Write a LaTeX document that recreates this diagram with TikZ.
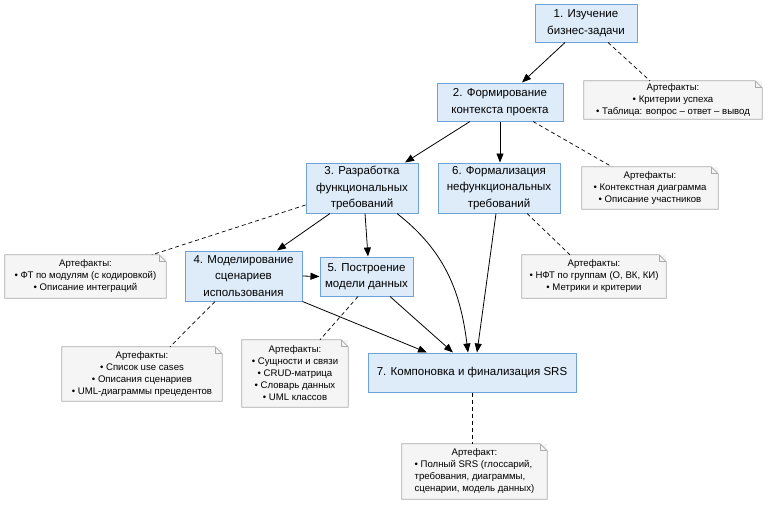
\documentclass[tikz,border=0pt]{standalone}
\usepackage{fontspec}
\setmainfont{Liberation Sans}
\usetikzlibrary{arrows.meta}
\definecolor{boxfill}{RGB}{222,236,250}
\definecolor{boxdraw}{RGB}{112,162,218}
\definecolor{notefill}{RGB}{245,245,245}
\definecolor{notedraw}{RGB}{170,170,170}
\begin{document}
\begin{tikzpicture}[x=1pt,y=-1pt,
  box/.style={draw=boxdraw, fill=boxfill, line width=1pt, align=center,
    font=\fontsize{11.5}{16.5}\selectfont, inner sep=0pt},
  note/.style={fill=notefill, align=center, font=\fontsize{9.6}{12}\selectfont, inner sep=0pt},
  notefold/.style={draw=notedraw, line width=0.8pt, line join=miter},
  arr/.style={-{Triangle[length=9pt,width=7pt]}, line width=0.8pt},
  dsh/.style={dash pattern=on 4pt off 3pt, line width=0.7pt}]
\useasboundingbox[fill=white] (0,0) rectangle (770,504);

% process boxes
\node[box, minimum width=102pt, minimum height=38pt] (b1) at (586,23) {1. Изучение\\бизнес-задачи};
\node[box, minimum width=126pt, minimum height=38pt] (b2) at (500,102) {2. Формирование\\контекста проекта};
\node[box, minimum width=112pt, minimum height=50pt] (b3) at (362,188) {3. Разработка\\функциональных\\требований};
\node[box, minimum width=122pt, minimum height=50pt] (b6) at (499,188) {6. Формализация\\нефункциональных\\требований};
\node[box, minimum width=117pt, minimum height=50pt] (b4) at (243.5,276) {4. Моделирование\\сценариев\\использования};
\node[box, minimum width=93pt, minimum height=39pt] (b5) at (366.5,276.5) {5. Построение\\модели данных};
\node[box, minimum width=208pt, minimum height=39pt] (b7) at (472,372.5) {7. Компоновка и финализация SRS};

% notes
\node[note, minimum width=178pt, minimum height=38pt] (n1) at (673,100) {Артефакты:\\• Критерии успеха\\• Таблица: вопрос – ответ – вывод};
\node[note, minimum width=136pt, minimum height=42pt] (n2) at (650,188) {Артефакты:\\• Контекстная диаграмма\\• Описание участников};
\node[note, minimum width=161pt, minimum height=43pt] (n3) at (85.5,276.5) {Артефакты:\\• ФТ по модулям (с кодировкой)\\• Описание интеграций};
\node[note, minimum width=144pt, minimum height=43pt] (n6) at (594,276.5) {Артефакты:\\• НФТ по группам (О, ВК, КИ)\\• Метрики и критерии};
\node[note, minimum width=160pt, minimum height=54pt] (n4) at (142,374) {Артефакты:\\• Список use cases\\• Описания сценариев\\• UML-диаграммы прецедентов};
\node[note, minimum width=106pt, minimum height=67pt] (n5) at (295,373.5) {Артефакты:\\• Сущности и связи\\• CRUD-матрица\\• Словарь данных\\• UML классов};
\node[note, minimum width=145pt, minimum height=55pt] (n7) at (474.5,471.5) {\begin{tabular}{@{}l@{}}\multicolumn{1}{@{}c@{}}{Артефакт:}\\• Полный SRS (глоссарий,\\требования, диаграммы,\\сценарии, модель данных)\end{tabular}};

\foreach \n in {n1,n2,n3,n6,n4,n5,n7}{
  \draw[notefold] (\n.north west) -- ([xshift=-7pt]\n.north east) -- ([yshift=-7pt]\n.north east)
    -- (\n.south east) -- (\n.south west) -- cycle;
  \draw[notefold] ([xshift=-7pt]\n.north east) -- ([xshift=-7pt,yshift=-7pt]\n.north east) -- ([yshift=-7pt]\n.north east);
}

% arrows
\draw[arr] ([xshift=-21pt]b1.south) -- ([xshift=22pt]b2.north);
\draw[arr] ([xshift=-30pt]b2.south) -- ([xshift=43pt]b3.north);
\draw[arr] (b2.south) -- ([xshift=1pt]b6.north);
\draw[arr] ([xshift=-32pt]b3.south) -- ([xshift=33.5pt]b4.north);
\draw[arr] ([xshift=3pt]b3.south) -- ([xshift=1.5pt]b5.north);
\draw[arr] ([xshift=35pt]b3.south) to[out=-38,in=97] ([xshift=-4pt]b7.north);
\draw[arr] ([xshift=-3pt]b6.south) -- ([xshift=5pt]b7.north);
\draw[arr] (b4.east) -- (b5.west);
\draw[arr] (b4.south east) -- ([xshift=-45pt]b7.north);
\draw[arr] ([xshift=23.5pt]b5.south) -- ([xshift=-19pt]b7.north);

% dashed links
\draw[dsh] ([xshift=22pt]b1.south) -- ([xshift=-23pt]n1.north);
\draw[dsh] ([xshift=33pt]b2.south) -- ([xshift=-38pt]n2.north);
\draw[dsh] ([yshift=-17pt]b3.west) -- ([xshift=66.5pt]n3.north);
\draw[dsh] ([xshift=28pt]b6.south) -- ([xshift=-24pt]n6.north);
\draw[dsh] ([xshift=-28.5pt]b4.south) -- ([xshift=28pt]n4.north);
\draw[dsh] ([xshift=-8.5pt]b5.south) -- ([xshift=25pt]n5.north);
\draw[dsh] (b7.south) -- ([xshift=-2.5pt]n7.north);
\end{tikzpicture}
\end{document}
